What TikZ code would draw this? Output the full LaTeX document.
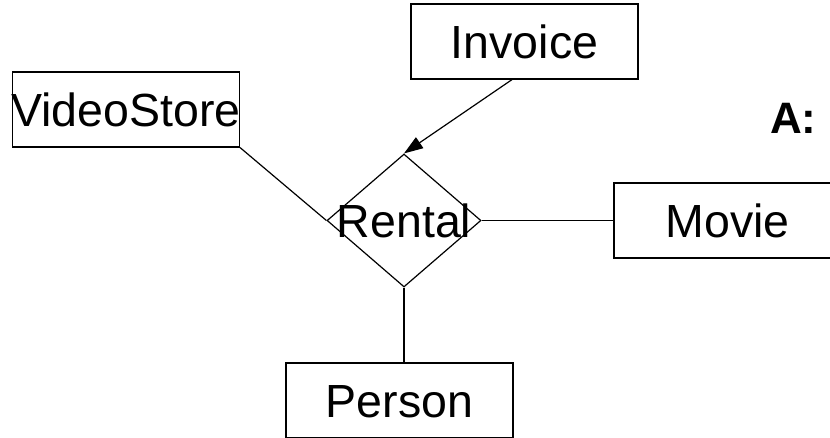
\documentclass[tikz,border=0pt]{standalone}
\usepackage{fontspec}
\setmainfont{Liberation Sans}
\usetikzlibrary{shapes.geometric,arrows.meta}
\tikzset{
  entity/.style={draw, line width=1.2pt, rectangle, inner sep=0pt,
    minimum width=227pt, minimum height=75pt,
    text height=33pt, text depth=0pt,
    font=\fontsize{46.5}{50}\selectfont},
  relation/.style={draw, line width=1.2pt, diamond, inner sep=0pt,
    minimum width=154pt, minimum height=133pt,
    text height=33pt, text depth=0pt,
    font=\fontsize{46.5}{50}\selectfont},
  link/.style={line width=1.2pt},
  tag/.style={inner sep=0pt, anchor=base west,
    font=\fontsize{44}{48}\selectfont\bfseries}
}
\begin{document}
\begin{tikzpicture}[x=1pt, y=-1pt]
  \useasboundingbox (0,0) rectangle (830,437);
  \node[entity] (inv) at (524.5,41.5) {Invoice};
  \node[entity] (vs) at (126,109.5) {\makebox[0pt][c]{VideoStore}};
  \node[relation] (rent) at (404,220.5) {\makebox[0pt][c]{Rental}};
  \node[entity] (mov) at (727.5,220.5) {Movie};
  \node[entity] (per) at (399.5,400.5) {Person};
  \node[tag] (ans) at (770,133) {A:};
  \draw[link, -{Triangle[length=19pt,width=13pt]}] ([xshift=-12.5pt]inv.south) -- (rent.north);
  \draw[link] (vs.south east) -- (rent.west);
  \draw[link] (rent.east) -- (mov.west);
  \draw[link] (rent.south) -- (rent.south |- per.north);
\end{tikzpicture}
\end{document}
